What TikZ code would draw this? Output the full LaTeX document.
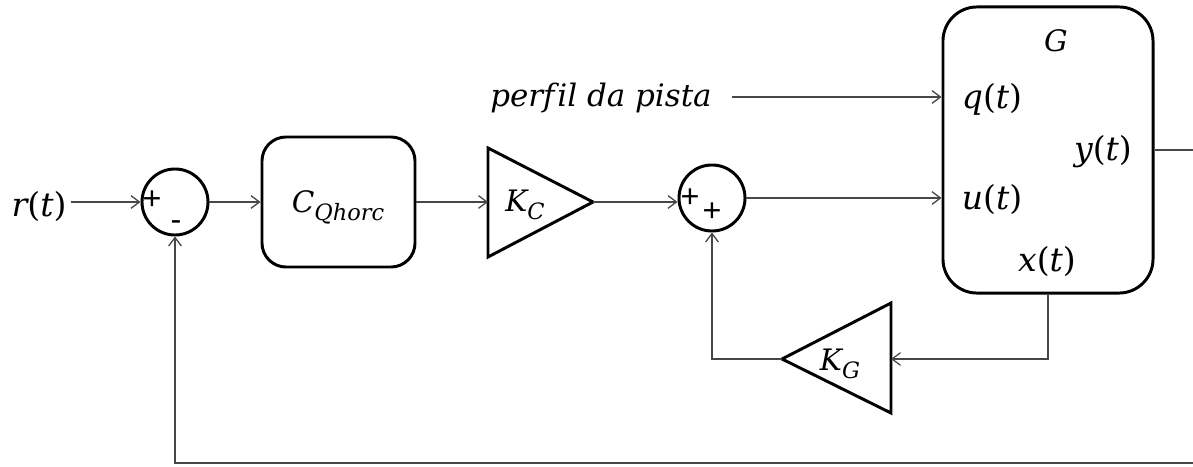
\documentclass[tikz,border=0pt]{standalone}
\usepackage{fontspec}
\newfontfamily\signfont{Liberation Sans}
\newfontfamily\lblfont[Ligatures=NoCommon]{DejaVu Serif}
\newcommand{\fnlab}[2]{{\itshape #1}\upshape(\itshape #2\upshape)}
\newcommand{\sublab}[1]{\raisebox{-0.28em}{\fontsize{16}{16}\selectfont\itshape #1}}
\usetikzlibrary{arrows.meta}
\begin{document}
\begin{tikzpicture}[x=0.025cm,y=-0.025cm,
  blk/.style={draw=black, line width=2.1pt, line join=round},
  wire/.style={draw=black!72, line width=0.9pt},
  arr/.style={wire, -{Straight Barb[length=6pt,width=9pt]}},
  lab/.style={inner sep=0pt, font=\lblfont\fontsize{23.5}{26}\selectfont},
  blab/.style={inner sep=0pt, font=\lblfont\fontsize{21}{24}\selectfont},
  sgn/.style={inner sep=0pt, font=\signfont\fontsize{23}{24}\selectfont},
  sumnode/.style={blk, circle, minimum size=1.65cm, inner sep=0pt},
]
\useasboundingbox (0,0) rectangle (1193,467);

% input
\node[lab, inner sep=3pt] (r) at (39,207) {\fnlab{r}{t}};

% summing junction 1
\node[sumnode] (s1) at (175,202) {};
\node[sgn] (s1p) at (152,200) {+};
\node[sgn] (s1m) at (176,226) {-};

% controller block
\node[blk, rectangle, rounded corners=0.6cm, minimum width=3.825cm, minimum height=3.25cm] (C) at (338.5,202) {};
\node[blab, anchor=base] (Ct) at (338,212) {\itshape C\sublab{Qhorc}};

% gain K_C
\draw[blk, line join=miter] (488,148) -- (593,202) -- (488,257) -- cycle;
\coordinate (kcin) at (488,202);
\coordinate (kcout) at (593,202);
\node[blab, anchor=base] (KC) at (525,211) {\itshape K\sublab{C}};

% summing junction 2
\node[sumnode] (s2) at (712,198) {};
\node[sgn] (s2p) at (690,198) {+};
\node[sgn] (s2q) at (712,212) {+};

% plant G
\node[blk, rectangle, rounded corners=0.85cm, minimum width=5.25cm, minimum height=7.15cm] (G) at (1048,150) {};
\node[blab, anchor=base] (Gt) at (1056,51) {\itshape G};
\node[lab] (q) at (992,99) {\fnlab{q}{t}};
\node[lab] (yv) at (1103,152) {\fnlab{y}{t}};
\node[lab] (u) at (992,200) {\fnlab{u}{t}};
\node[lab] (xv) at (1047,262) {\fnlab{x}{t}};

% road profile
\node[lab, font=\lblfont\fontsize{22}{26}\selectfont] (perf) at (601,98) {\itshape perf\kern2pt il da pista};

% gain K_G
\draw[blk, line join=miter] (891,303) -- (891,413) -- (782,359) -- cycle;
\coordinate (kgin) at (891,359);
\coordinate (kgout) at (782,359);
\node[blab, anchor=base] (KG) at (840,370) {\itshape K\sublab{G}};

% output / feedback ends
\coordinate (yout) at (1193,150);
\coordinate (fbR) at (1193,463);

% connectors
\draw[arr] (r.east |- s1.west) -- (s1.west);
\draw[arr] (s1.east) -- (C.west);
\draw[arr] (C.east) -- (kcin);
\draw[arr] (kcout) -- (s2.west |- kcout);
\draw[arr] (s2.east) -- (s2.east -| G.west);
\draw[arr] (perf.east |- 0,97) ++(0.5cm,0) -- (G.west |- 0,97);
\draw[wire] (G.east) -- (yout);
\draw[arr] (G.south) |- (kgin);
\draw[arr] (kgout) -| (s2.south);
\draw[arr] (fbR) -| (s1.south);
\end{tikzpicture}
\end{document}
